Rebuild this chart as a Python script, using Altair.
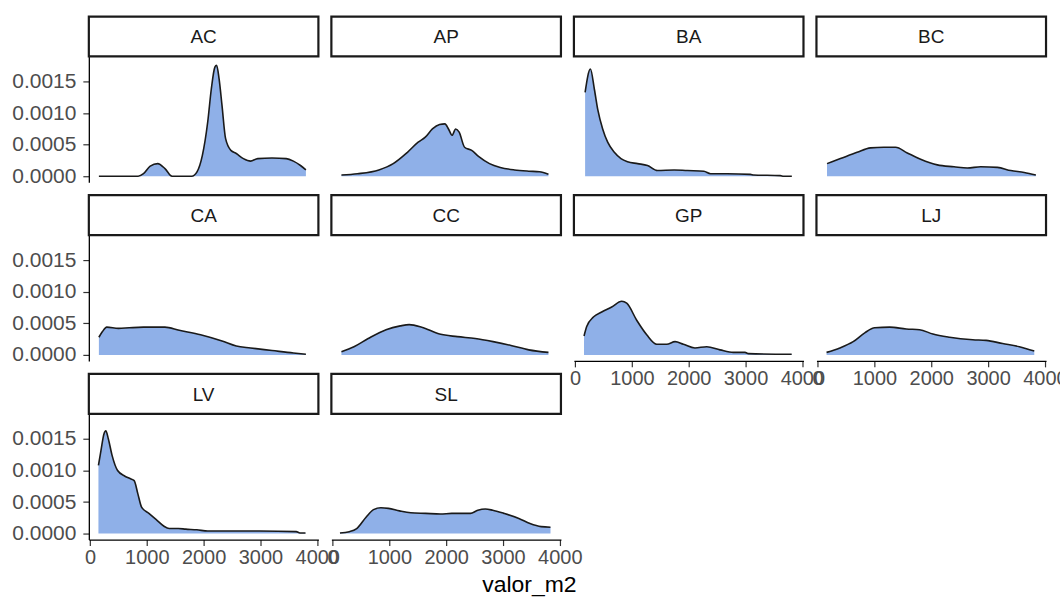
import altair as alt
import pandas as pd

bairros = ["AC", "AP", "BA", "BC", "CA", "CC", "GP", "LJ", "LV", "SL"]

ac_x = [157, 500, 848, 942, 1060, 1193, 1320, 1444, 1790, 1884, 1978, 2072, 2135, 2198, 2229, 2273, 2324, 2386, 2480, 2575, 2700, 2826, 2952, 3203, 3454, 3580, 3705, 3800]
ac_y = [0, 0, 0, 0.00004, 0.00016, 0.0002, 0.00012, 0, 0, 0.00007, 0.00033, 0.00086, 0.00138, 0.00173, 0.00176, 0.00154, 0.00112, 0.0006, 0.00041, 0.00036, 0.00028, 0.00024, 0.00028, 0.00029, 0.00028, 0.00024, 0.00017, 0.0001]

ap_x = [157, 440, 816, 1068, 1319, 1507, 1633, 1758, 1884, 1978, 2041, 2104, 2167, 2229, 2324, 2449, 2575, 2763, 2952, 3203, 3454, 3642, 3800]
ap_y = [0.00002, 0.00004, 0.0001, 0.0002, 0.00038, 0.00054, 0.00062, 0.00075, 0.00082, 0.00083, 0.00075, 0.00065, 0.00075, 0.0007, 0.00046, 0.00041, 0.00031, 0.0002, 0.00014, 0.0001, 0.00008, 0.00007, 0.00003]

ba_x = [177, 270, 340, 399, 486, 574, 691, 808, 924, 1100, 1275, 1450, 1742, 1976, 2268, 2384, 2676, 3085, 3144, 3611, 3670, 3815]
ba_y = [0.00133, 0.0017, 0.00138, 0.00106, 0.00075, 0.00054, 0.00038, 0.00028, 0.00023, 0.0002, 0.00017, 0.00009, 0.0001, 0.00009, 0.00008, 0.00004, 0.00004, 0.00003, 0.00002, 0.00001, 0, 0]

bc_x = [166, 402, 696, 931, 1166, 1372, 1578, 1813, 2107, 2401, 2636, 2871, 3165, 3400, 3636, 3841]
bc_y = [0.0002, 0.00028, 0.00038, 0.00045, 0.00046, 0.00046, 0.00037, 0.00027, 0.00018, 0.00015, 0.00013, 0.00015, 0.00014, 0.00009, 0.00006, 0.00002]

ca_x = [157, 220, 295, 502, 691, 942, 1319, 1570, 1947, 2324, 2575, 2826, 3203, 3580, 3800]
ca_y = [0.00028, 0.00037, 0.00044, 0.00042, 0.00043, 0.00044, 0.00044, 0.00039, 0.00032, 0.00022, 0.00014, 0.00011, 0.00007, 0.00003, 0.00001]

cc_x = [157, 377, 628, 942, 1193, 1350, 1570, 1884, 2198, 2512, 2826, 3140, 3454, 3800]
cc_y = [0.00005, 0.00013, 0.00026, 0.0004, 0.00046, 0.00048, 0.00044, 0.00033, 0.00029, 0.00026, 0.00021, 0.00015, 0.00008, 0.00004]

gp_x = [158, 205, 323, 469, 645, 821, 909, 1085, 1261, 1437, 1613, 1760, 1906, 2111, 2317, 2551, 2786, 2991, 3050, 3812]
gp_y = [0.0003, 0.00045, 0.0006, 0.00068, 0.00076, 0.00085, 0.00082, 0.00055, 0.00032, 0.00017, 0.00017, 0.00021, 0.00017, 0.00011, 0.00013, 0.00008, 0.00004, 0.00004, 0.00002, 0.00001]

lj_x = [158, 392, 626, 830, 1006, 1269, 1561, 1795, 2029, 2322, 2731, 2965, 3257, 3550, 3813]
lj_y = [0.00004, 0.00011, 0.00021, 0.00035, 0.00043, 0.00044, 0.00041, 0.0004, 0.00033, 0.00028, 0.00024, 0.00023, 0.00018, 0.00013, 0.00006]

lv_x = [149, 194, 246, 279, 324, 389, 486, 616, 713, 778, 843, 908, 1037, 1167, 1297, 1394, 1556, 1686, 1880, 2075, 2528, 2982, 3630, 3695, 3793]
lv_y = [0.00108, 0.00132, 0.00158, 0.00163, 0.0015, 0.00124, 0.001, 0.00091, 0.00087, 0.00084, 0.00063, 0.00042, 0.00032, 0.00022, 0.00012, 0.00008, 0.00008, 0.00007, 0.00006, 0.00004, 0.00004, 0.00004, 0.00003, 0.00001, 0.00001]

sl_x = [131, 295, 426, 590, 721, 852, 984, 1180, 1377, 1639, 1902, 2098, 2426, 2557, 2689, 2820, 3016, 3279, 3475, 3672, 3836]
sl_y = [0.00001, 0.00003, 0.00008, 0.00026, 0.00038, 0.00041, 0.0004, 0.00036, 0.00033, 0.00032, 0.00031, 0.00032, 0.00032, 0.00037, 0.00039, 0.00037, 0.00032, 0.00024, 0.00016, 0.00011, 0.0001]

x_ticks = [0, 1000, 2000, 3000, 4000]
y_ticks = [0.0, 0.0005, 0.0010, 0.0015]

series = {
    "AC": (ac_x, ac_y), "AP": (ap_x, ap_y), "BA": (ba_x, ba_y), "BC": (bc_x, bc_y),
    "CA": (ca_x, ca_y), "CC": (cc_x, cc_y), "GP": (gp_x, gp_y), "LJ": (lj_x, lj_y),
    "LV": (lv_x, lv_y), "SL": (sl_x, sl_y),
}
# panels whose x axis is drawn (last panel of each column) and y axis (first column)
with_x_axis = ["GP", "LJ", "LV", "SL"]
with_y_axis = ["AC", "CA", "LV"]

rows = []
for b in bairros:
    xs, ys = series[b]
    for i, (x, y) in enumerate(zip(xs, ys)):
        rows.append({"bairro": b, "valor_m2": x, "density": y, "first": i == 0})
df = pd.DataFrame(rows)

W, H = 230, 126
STRIP = 40
FONT = "Liberation Sans"

xscale = alt.Scale(domain=[-20, 4020], nice=False, zero=False)
yscale = alt.Scale(domain=[-0.000095, 0.0019], nice=False, zero=False)


def make_axis(show, values, fmt, pad, size):
    if show:
        return alt.Axis(values=values, format=fmt, title=None, grid=False,
                        labelFontSize=size, labelColor="#4d4d4d", labelFont=FONT,
                        labelFlush=False, labelOverlap=False, labelPadding=pad,
                        domainColor="black", domainWidth=1.3, tickColor="#333333",
                        tickSize=6, tickWidth=1.2)
    return alt.Axis(labels=False, ticks=False, domain=False, grid=False, title=None)


def panel(b):
    xa = make_axis(b in with_x_axis, x_ticks, "d", 2, 20)
    ya = make_axis(b in with_y_axis, y_ticks, ".4f", 7, 21)
    base = alt.Chart().properties(width=W, height=H)
    area = base.mark_area(color="#8fb0e8", opacity=1, interpolate="monotone").encode(
        x=alt.X("valor_m2:Q", scale=xscale, axis=xa),
        y=alt.Y("density:Q", scale=yscale, axis=ya),
        y2=alt.datum(0),
    )
    line = base.mark_line(color="#1a1a1a", strokeWidth=1.6, interpolate="monotone").encode(
        x=alt.X("valor_m2:Q", scale=xscale),
        y=alt.Y("density:Q", scale=yscale),
    )
    strip = base.mark_rect(fill="white", stroke="#1a1a1a", strokeWidth=2.2).encode(
        x=alt.value(0), x2=alt.value(W), y=alt.value(-STRIP), y2=alt.value(0)
    ).transform_filter("datum.first")
    strip_text = base.mark_text(fontSize=19, color="#1a1a1a", font=FONT,
                                baseline="middle", align="center").encode(
        x=alt.value(W / 2), y=alt.value(-STRIP / 2 + 1), text="bairro:N"
    ).transform_filter("datum.first")
    return alt.layer(area, line, strip, strip_text).transform_filter(
        alt.datum.bairro == b
    )


chart = alt.concat(
    *[panel(b) for b in bairros],
    columns=4,
    spacing={"row": 53, "column": 13},
    bounds="flush",
    data=df,
).properties(
    title=alt.TitleParams("valor_m2", orient="bottom", anchor="middle", fontSize=23,
                          font=FONT, fontWeight="normal", color="black", dx=-10, offset=7),
    padding={"left": 11, "top": 14, "right": -8, "bottom": 0},
).configure_view(stroke=None)

chart.save("out.html", embed_options={"renderer": "svg", "actions": False})
